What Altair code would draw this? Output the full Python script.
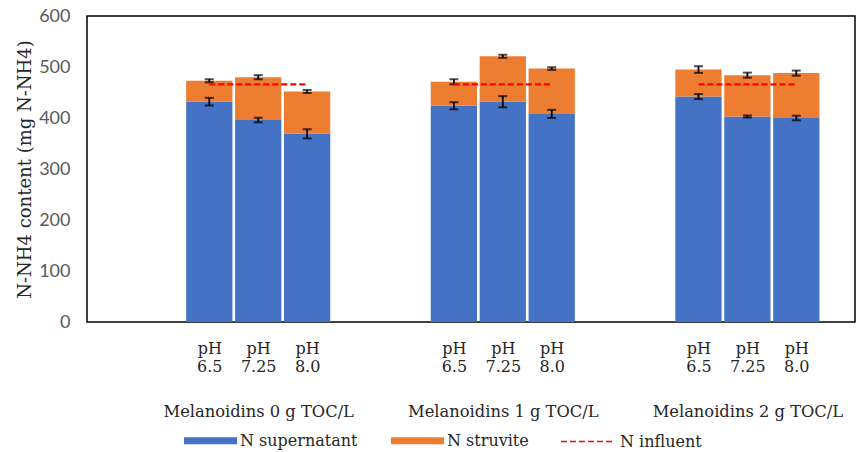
import altair as alt
import pandas as pd

# ---- data ----
groups = ["Melanoidins 0 g TOC/L", "Melanoidins 1 g TOC/L", "Melanoidins 2 g TOC/L"]
ph_levels = ["6.5", "7.25", "8.0"]
n_supernatant = [432, 396, 369, 424, 432, 408, 442, 403, 400]
n_supernatant_err = [7.5, 4.5, 9, 7, 11, 8, 5, 2, 4.5]
n_total = [473, 480, 452, 471, 521, 497, 495, 484, 488]
n_total_err = [3, 4, 3, 5, 3, 2.5, 6.5, 5, 5]
n_influent = [466, 466, 466]

series_names = ["N supernatant", "N struvite"]
series_colors = ["#4472C4", "#ED7D31"]
influent_name = "N influent"

GROUP_STEP = 5      # slot spacing between groups
HALF_BAR = 0.473    # half bar width in slot units
X_DOMAIN = [-2.5, 13.2]

bar_rows, err_rows, cap_rows, inf_rows = [], [], [], []
tick_values, tick_labels = [], []
group_values = []
for gi, g in enumerate(groups):
    for pi, ph in enumerate(ph_levels):
        k = gi * len(ph_levels) + pi
        slot = gi * GROUP_STEP + pi
        sup = n_supernatant[k]
        tot = n_total[k]
        bar_rows.append(dict(slot=slot, x0=slot - HALF_BAR, x1=slot + HALF_BAR,
                             series=series_names[0], y0=0, y1=sup))
        bar_rows.append(dict(slot=slot, x0=slot - HALF_BAR, x1=slot + HALF_BAR,
                             series=series_names[1], y0=sup, y1=tot))
        for c, e in ((sup, n_supernatant_err[k]), (tot, n_total_err[k])):
            err_rows.append(dict(x0=slot, y0=c - e, y1=c + e))
            cap_rows.append(dict(x0=slot, y0=c - e))
            cap_rows.append(dict(x0=slot, y0=c + e))
        tick_values.append(slot)
        tick_labels.append(["pH", ph])
    first = gi * GROUP_STEP
    last = gi * GROUP_STEP + len(ph_levels) - 1
    inf_rows.append(dict(xa=first, xb=last, y0=n_influent[gi], series=influent_name))
    group_values.append(gi * GROUP_STEP + (len(ph_levels) - 1) / 2)

bars_df = pd.DataFrame(bar_rows)
err_df = pd.DataFrame(err_rows)
cap_df = pd.DataFrame(cap_rows)
inf_df = pd.DataFrame(inf_rows)


def label_expr(values, labels):
    parts = []
    for v, lab in zip(values, labels):
        if isinstance(lab, list):
            txt = "[" + ",".join("'" + s + "'" for s in lab) + "]"
        else:
            txt = "'" + lab + "'"
        parts.append(f"datum.value == {v} ? {txt} : ")
    return "".join(parts) + "''"


SERIF = "DejaVu Serif"
TXT = "#262626"

xscale = alt.Scale(domain=X_DOMAIN, nice=False, zero=False)
yscale = alt.Scale(domain=[0, 600], nice=False)

x_axis = alt.Axis(values=tick_values, labelExpr=label_expr(tick_values, tick_labels),
                  title=None, ticks=False, domain=False, grid=False,
                  labelFont=SERIF, labelFontSize=16, labelColor=TXT,
                  labelLineHeight=18.5, labelBaseline="top", labelPadding=18,
                  labelFlush=False, labelOverlap=False, labelLimit=0)
y_axis = alt.Axis(values=[0, 100, 200, 300, 400, 500, 600], title="N-NH4 content (mg N-NH4)",
                  ticks=False, domain=False, grid=False,
                  labelFont="Lato", labelFontSize=18, labelColor="#595959", labelPadding=17,
                  titleFont=SERIF, titleFontSize=18, titleFontWeight="normal",
                  titleColor=TXT, titlePadding=4)

bars = alt.Chart(bars_df).mark_bar(strokeWidth=0).encode(
    x=alt.X("x0:Q", scale=xscale, axis=x_axis),
    x2="x1:Q",
    y=alt.Y("y0:Q", scale=yscale, axis=y_axis),
    y2="y1:Q",
    color=alt.Color("series:N",
                    scale=alt.Scale(domain=series_names, range=series_colors),
                    legend=alt.Legend(orient="none", legendX=97, legendY=398, direction="horizontal",
                                      title=None, symbolType="M-1,-0.13H1V0.13H-1Z", symbolSize=2809,
                                      symbolStrokeWidth=0, labelFont=SERIF, labelFontSize=16,
                                      labelColor=TXT, labelOffset=3, columnPadding=33, padding=0,
                                      labelLimit=0)),
)

errs = alt.Chart(err_df).mark_rule(color="black", strokeWidth=1.8).encode(
    x=alt.X("x0:Q", scale=xscale, axis=x_axis),
    y=alt.Y("y0:Q", scale=yscale, axis=y_axis),
    y2="y1:Q",
)

caps = alt.Chart(cap_df).mark_tick(color="black", orient="horizontal", size=9, thickness=2).encode(
    x=alt.X("x0:Q", scale=xscale, axis=x_axis),
    y=alt.Y("y0:Q", scale=yscale, axis=y_axis),
)

base = alt.layer(bars, errs, caps)

influent = alt.Chart(inf_df).mark_rule(color="#FF0000", strokeWidth=2.3).encode(
    x=alt.X("xa:Q", scale=alt.Scale(domain=X_DOMAIN, nice=False, zero=False),
            axis=alt.Axis(orient="bottom", values=group_values,
                          labelExpr=label_expr(group_values, groups),
                          title=None, ticks=False, domain=False, grid=False,
                          labelFont=SERIF, labelFontSize=16.3, labelColor=TXT,
                          labelBaseline="top", labelPadding=81, labelFlush=False,
                          labelOverlap=False, labelLimit=0)),
    x2="xb:Q",
    y=alt.Y("y0:Q", scale=yscale, axis=y_axis),
    strokeDash=alt.StrokeDash("series:N",
                              scale=alt.Scale(domain=[influent_name], range=[[6, 3]]),
                              legend=alt.Legend(orient="none", legendX=473, legendY=398,
                                                title=None, symbolType="stroke", symbolSize=2809,
                                                symbolStrokeColor="#FF0000", symbolStrokeWidth=1.6,
                                                symbolDash=[5, 2.6], labelFont=SERIF,
                                                labelFontSize=16, labelColor=TXT, labelOffset=5,
                                                padding=0, labelLimit=0)),
)

chart = alt.layer(base, influent).resolve_scale(x="independent").properties(
    width=768, height=306,
    padding={"left": 87, "top": 16, "right": 2, "bottom": 130},
    autosize=alt.AutoSizeParams(type="none"),
).configure(font=SERIF).configure_view(stroke="black", strokeWidth=1.5).configure_legend(
    labelFont=SERIF, labelFontSize=16, labelColor=TXT
)

chart.save("out.html", embed_options={"renderer": "svg", "actions": False})
